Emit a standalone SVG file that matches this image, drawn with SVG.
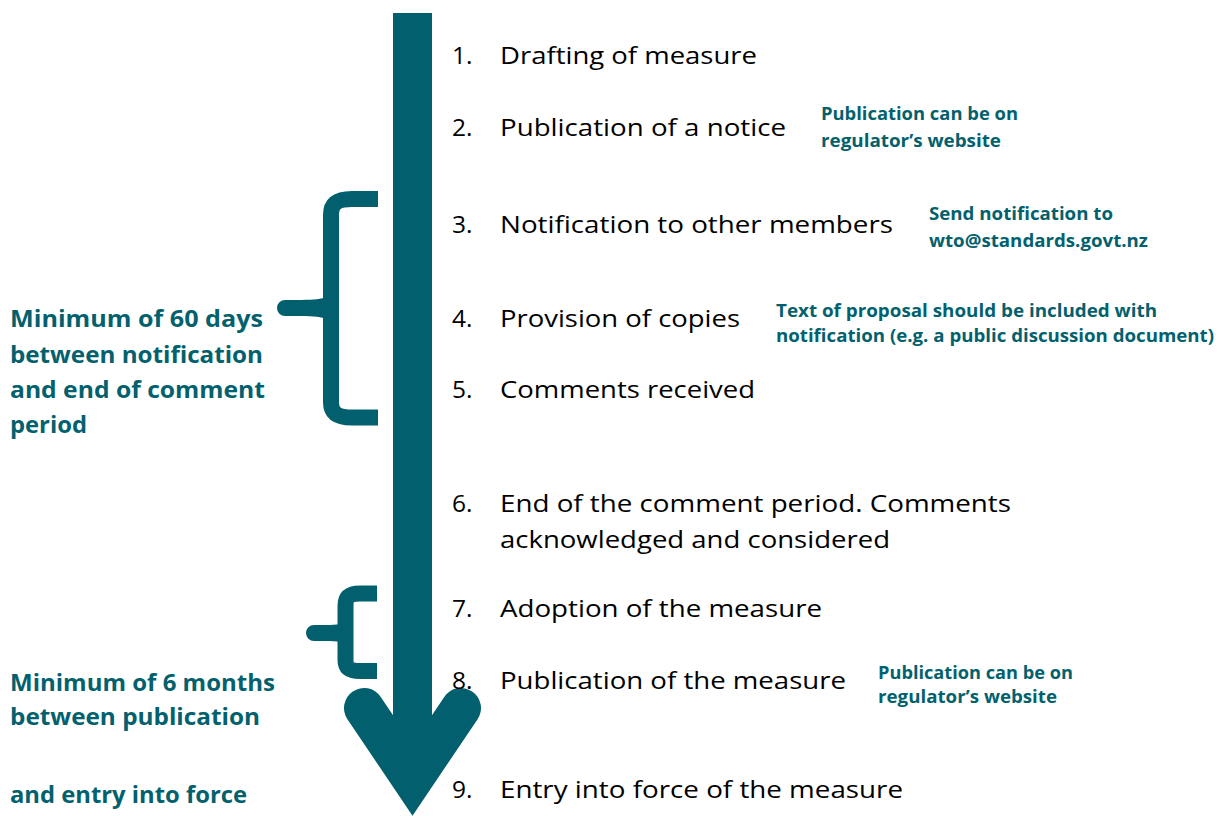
<svg xmlns="http://www.w3.org/2000/svg" width="1227" height="816" viewBox="0 0 1227 816">
<style>
.step{font-family:"Open Sans","Liberation Sans",sans-serif;font-size:24.5px;fill:#000}
.note{font-family:"Open Sans","Liberation Sans",sans-serif;font-size:17px;font-weight:bold;fill:#03616e}
.lbl{font-family:"Open Sans","Liberation Sans",sans-serif;font-size:23px;font-weight:bold;fill:#03616e}
.br{fill:none;stroke:#02606e;stroke-width:16}
</style>
<rect width="1227" height="816" fill="#fff"/>
<g id="connectors">
  <g id="arrow">
    <path d="M393,13 L432,13 L432,755 L393,755 Z" fill="#02606e"/>
    <path d="M364,708 L412.5,780 L461,708" fill="none" stroke="#02606e" stroke-width="40" stroke-linecap="round" stroke-linejoin="miter"/>
    <path d="M395,730 L430,730 L412.5,780 Z" fill="#02606e"/>
  </g>
  <g id="brace1">
    <path class="br" d="M378,199 L352,199 C337,199 331,203 331,215 L331,402 C331,413 337,417.5 352,417.5 L378,417.5"/>
    <path fill="#02606e" d="M333,290 C329,300 318,300 285,300 A8,8 0 0 0 285,316 C318,316 329,316 333,326 Z"/>
  </g>
  <g id="brace2">
    <path class="br" d="M377,593.5 L360,593.5 C349,593.5 345.5,597 345.5,606 L345.5,660 C345.5,668 349,671 360,671 L377,671"/>
    <path fill="#02606e" d="M347,618 C343,626 335,625 314,625 A8,8 0 0 0 314,641 C335,641 343,640 347,648 Z"/>
  </g>
</g>
<g id="step1"><text class="step" x="452" y="64">1.</text><text class="step" x="500" y="64" textLength="257" lengthAdjust="spacingAndGlyphs">Drafting of measure</text></g>
<g id="step2"><text class="step" x="452" y="136">2.</text><text class="step" x="500" y="136" textLength="286" lengthAdjust="spacingAndGlyphs">Publication of a notice</text></g>
<g id="note2"><text class="note" x="821" y="120" textLength="197" lengthAdjust="spacingAndGlyphs">Publication can be on</text><text class="note" x="821" y="147" textLength="180" lengthAdjust="spacingAndGlyphs">regulator’s website</text></g>
<g id="step3"><text class="step" x="452" y="233">3.</text><text class="step" x="500" y="233" textLength="393" lengthAdjust="spacingAndGlyphs">Notification to other members</text></g>
<g id="note3"><text class="note" x="929" y="220" textLength="184" lengthAdjust="spacingAndGlyphs">Send notification to</text><text class="note" x="929" y="247" textLength="219" lengthAdjust="spacingAndGlyphs">wto@standards.govt.nz</text></g>
<g id="step4"><text class="step" x="452" y="327">4.</text><text class="step" x="500" y="327" textLength="240" lengthAdjust="spacingAndGlyphs">Provision of copies</text></g>
<g id="note4"><text class="note" x="776" y="317" textLength="381" lengthAdjust="spacingAndGlyphs">Text of proposal should be included with</text><text class="note" x="776" y="342" textLength="438" lengthAdjust="spacingAndGlyphs">notification (e.g. a public discussion document)</text></g>
<g id="step5"><text class="step" x="452" y="398">5.</text><text class="step" x="500" y="398" textLength="255" lengthAdjust="spacingAndGlyphs">Comments received</text></g>
<g id="step6"><text class="step" x="452" y="512">6.</text><text class="step" x="500" y="512" textLength="511" lengthAdjust="spacingAndGlyphs">End of the comment period. Comments</text><text class="step" x="500" y="548" textLength="390" lengthAdjust="spacingAndGlyphs">acknowledged and considered</text></g>
<g id="step7"><text class="step" x="452" y="617">7.</text><text class="step" x="500" y="617" textLength="322" lengthAdjust="spacingAndGlyphs">Adoption of the measure</text></g>
<g id="step8"><text class="step" x="452" y="689">8.</text><text class="step" x="500" y="689" textLength="346" lengthAdjust="spacingAndGlyphs">Publication of the measure</text></g>
<g id="note8"><text class="note" x="878" y="679" textLength="195" lengthAdjust="spacingAndGlyphs">Publication can be on</text><text class="note" x="878" y="703" textLength="179" lengthAdjust="spacingAndGlyphs">regulator’s website</text></g>
<g id="step9"><text class="step" x="452" y="798">9.</text><text class="step" x="500" y="798" textLength="403" lengthAdjust="spacingAndGlyphs">Entry into force of the measure</text></g>
<g id="label60"><text class="lbl" x="10" y="327" textLength="253" lengthAdjust="spacingAndGlyphs">Minimum of 60 days</text><text class="lbl" x="10" y="363" textLength="253" lengthAdjust="spacingAndGlyphs">between notification</text><text class="lbl" x="10" y="398" textLength="255" lengthAdjust="spacingAndGlyphs">and end of comment</text><text class="lbl" x="10" y="433" textLength="77" lengthAdjust="spacingAndGlyphs">period</text></g>
<g id="label6m"><text class="lbl" x="10" y="691" textLength="265" lengthAdjust="spacingAndGlyphs">Minimum of 6 months</text><text class="lbl" x="10" y="725" textLength="250" lengthAdjust="spacingAndGlyphs">between publication</text><text class="lbl" x="10" y="803" textLength="237" lengthAdjust="spacingAndGlyphs">and entry into force</text></g>
</svg>
